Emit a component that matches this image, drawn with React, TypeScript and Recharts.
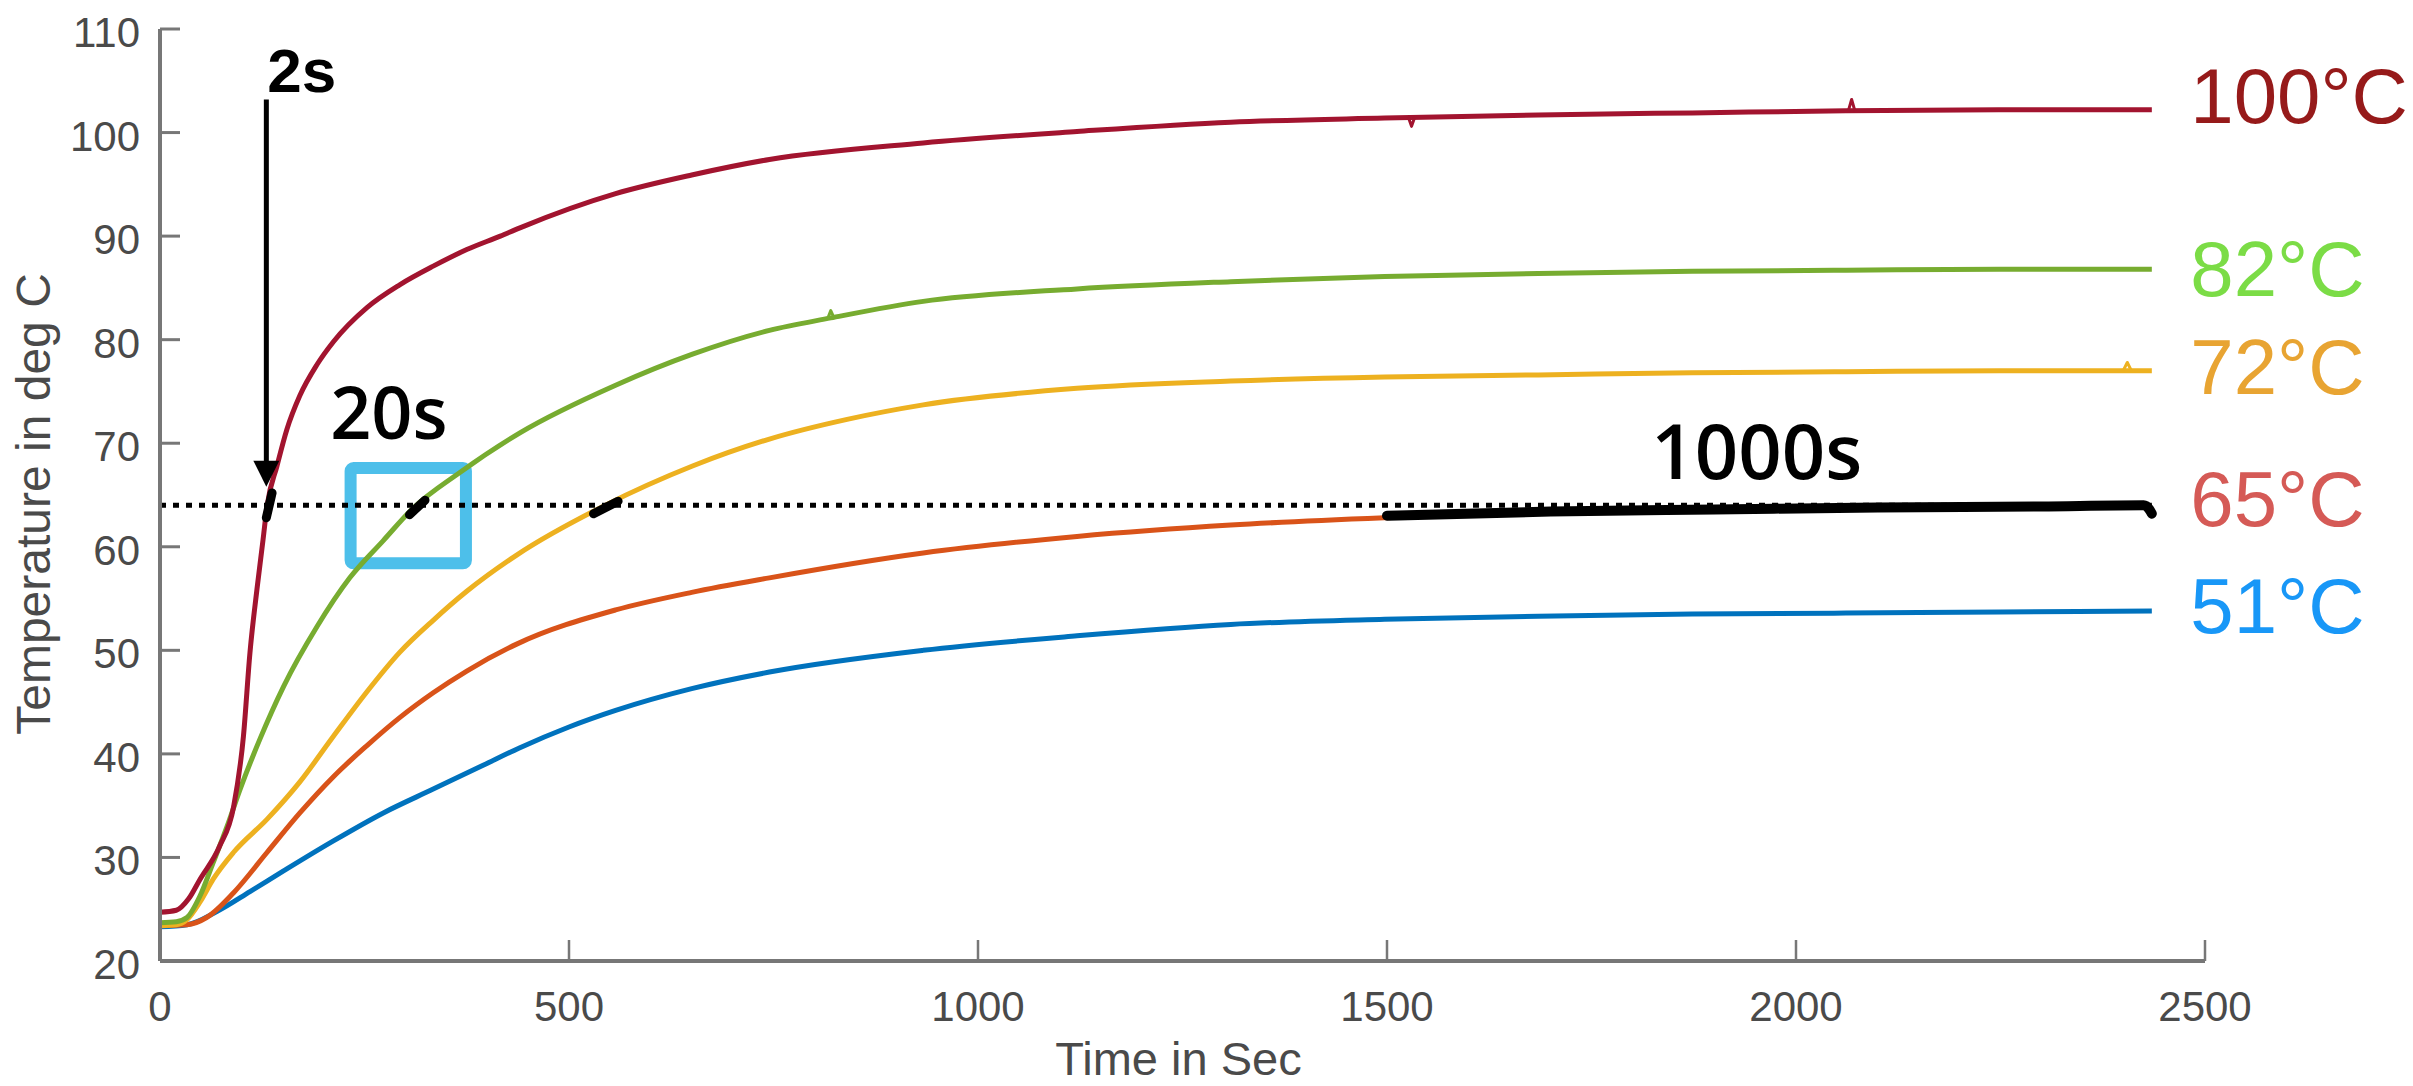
import { LineChart, Line, XAxis, YAxis, ReferenceArea, ReferenceDot } from 'recharts'

const FONT = '"Liberation Sans", Arial, Helvetica, sans-serif'
const NOTE_FONT = '"Open Sans", "Noto Sans", sans-serif'
const AXIS = '#777777'
const TEXT = '#4a4a4a'

// temperature readings (deg C) against time (s), one pair of arrays per setpoint
const t100 = [0, 20, 35, 49, 73, 90, 102, 110, 119, 126, 131, 143, 155, 171, 192, 212, 253, 293, 334, 375, 416, 440, 557, 650, 745, 933, 1121, 1309, 1497, 1685, 1873, 2061, 2250, 2435]
const v100 = [24.7, 24.9, 26, 27.9, 31.1, 34.9, 41.7, 49.8, 56.2, 60.7, 64, 67.8, 71.3, 74.6, 77.6, 79.8, 83.1, 85.3, 87.1, 88.7, 90.0, 90.8, 94.1, 95.9, 97.4, 99, 100.1, 101, 101.4, 101.7, 101.9, 102.1, 102.2, 102.2]

const t82 = [0, 20, 33, 49, 65, 82, 98, 122, 151, 192, 232, 273, 309, 367, 440, 557, 651, 745, 820, 933, 1121, 1309, 1497, 1685, 1873, 2061, 2250, 2435]
const v82 = [23.7, 23.8, 24.2, 26.3, 29.5, 33, 36.6, 41.4, 46.5, 52.3, 57.0, 60.6, 63.7, 67.2, 71.0, 75.6, 78.6, 80.9, 82.1, 83.7, 84.9, 85.6, 86.1, 86.4, 86.6, 86.7, 86.8, 86.8]

const t72 = [0, 20, 33, 49, 65, 90, 131, 171, 212, 253, 293, 334, 375, 436, 544, 651, 745, 840, 933, 1121, 1309, 1497, 1685, 1873, 2061, 2250, 2435]
const v72 = [23.4, 23.5, 24, 25.7, 27.9, 30.5, 33.7, 37.3, 41.7, 46, 49.8, 52.9, 55.7, 59.2, 64, 67.8, 70.4, 72.3, 73.7, 75.3, 76, 76.4, 76.6, 76.8, 76.9, 77, 77]

const t65 = [0, 33, 57, 90, 131, 171, 212, 253, 293, 334, 375, 436, 557, 650, 745, 933, 1121, 1309, 1497, 1685, 1873, 2061, 2250, 2435]
const v65 = [23.4, 23.5, 24.2, 26.6, 30.5, 34.3, 37.8, 40.8, 43.5, 45.9, 48.0, 50.6, 53.9, 55.6, 57.0, 59.4, 61, 62.1, 62.8, 63.3, 63.6, 63.8, 63.9, 63.9]

const t51 = [0, 33, 70, 110, 151, 212, 273, 334, 395, 440, 500, 557, 650, 745, 933, 1121, 1309, 1497, 1685, 1873, 2061, 2250, 2435]
const v51 = [23.3, 23.5, 24.8, 26.7, 28.7, 31.6, 34.3, 36.6, 38.9, 40.6, 42.6, 44.2, 46.3, 47.9, 50, 51.4, 52.5, 53, 53.3, 53.5, 53.6, 53.7, 53.8]

// single-sample glitches visible on the traces
const spikes = [
  { color: '#a2142f', t: [1526, 1530, 1534], v: [101.5, 100.6, 101.5] },
  { color: '#a2142f', t: [2064, 2068, 2072], v: [102.1, 103.2, 102.1] },
  { color: '#77ac30', t: [816, 820, 824], v: [82.0, 82.8, 82.1] },
  { color: '#edb120', t: [2400, 2405, 2410], v: [77, 77.8, 77] },
]

// 64 deg C threshold and the 1000 s hold at the end of the 65 deg C run
const tThreshold = [0, 2435]
const vThreshold = [64, 64]
const tHold = [1500, 1700, 1900, 2100, 2300, 2425, 2432, 2435]
const vHold = [63.0, 63.4, 63.6, 63.8, 63.9, 64.0, 63.6, 63.2]

// short black marks where curves cross the threshold
const crossMarks = [
  { t: [130, 137], v: [62.8, 65.2] },
  { t: [305, 324], v: [63.1, 64.5] },
  { t: [530, 560], v: [63.2, 64.4] },
]

// arrow for the 2 s case
const tArrow = [130, 130]
const vArrow = [103.2, 67.6]
const arrowTip = { t: 130, v: 65.8 }

// highlighted box around the 20 s crossing
const box = { t1: 233, t2: 374, v1: 58.4, v2: 67.6 }

const endLabels = ['100°C', '82°C', '72°C', '65°C', '51°C']
const endLabelColors = ['#961a1a', '#7bdc46', '#e8a432', '#d55a56', '#1897f7']
const endLabelY = [100.95, 84.2, 74.8, 62.0, 51.7]
const endLabelX = 2482

const notes = [
  { text: '2s', t: 131, v: 103.95, anchor: 'start', size: 62, family: FONT, weight: 700 },
  { text: '20s', t: 208, v: 70.4, anchor: 'start', size: 72, family: NOTE_FONT, weight: 600 },
  { text: '1000s', t: 1952, v: 66.5, anchor: 'middle', size: 76, family: NOTE_FONT, weight: 600 },
]

const xTicks = [0, 500, 1000, 1500, 2000, 2500]
const yTicks = [20, 30, 40, 50, 60, 70, 80, 90, 100, 110]

const zip = (ts: number[], vs: number[]) => ts.map((t, i) => ({ t, v: vs[i] }))

const series = [
  { key: 's51', data: zip(t51, v51), color: '#0072bd' },
  { key: 's65', data: zip(t65, v65), color: '#d95319' },
  { key: 's72', data: zip(t72, v72), color: '#edb120' },
  { key: 's82', data: zip(t82, v82), color: '#77ac30' },
  { key: 's100', data: zip(t100, v100), color: '#a2142f' },
]

const YTick = ({ x, y, payload }: any) => (
  <g>
    <line x1={x + 20} x2={x + 40} y1={y} y2={y} stroke={AXIS} strokeWidth={3} />
    <text x={x} y={y} dy={18} textAnchor="end" fill={TEXT} fontSize={42} fontFamily={FONT}>
      {payload.value}
    </text>
  </g>
)

const XTick = ({ x, y, payload }: any) => (
  <g>
    <line x1={x} x2={x} y1={y - 30} y2={y - 51} stroke={AXIS} strokeWidth={2.5} />
    <text x={x} y={y} dy={30} textAnchor="middle" fill={TEXT} fontSize={42} fontFamily={FONT}>
      {payload.value}
    </text>
  </g>
)

const App = () => {
  return (
    <div style={{ position: 'absolute', left: 0, top: 0, background: '#fff' }}>
      <LineChart width={2413} height={1086} margin={{ top: 29, right: 208, bottom: 0, left: 0 }}>
        <XAxis
          dataKey="t"
          type="number"
          domain={[0, 2500]}
          ticks={xTicks}
          tickSize={0}
          tickMargin={30}
          tickLine={false}
          tick={XTick}
          height={125}
          axisLine={{ stroke: AXIS, strokeWidth: 4 }}
          label={({ viewBox }: any) => (
            <text
              x={viewBox.x + viewBox.width / 2 - 4}
              y={viewBox.y + 114}
              textAnchor="middle"
              fill={TEXT}
              fontSize={47}
              fontFamily={FONT}
            >
              Time in Sec
            </text>
          )}
        />
        <YAxis
          type="number"
          domain={[20, 110]}
          ticks={yTicks}
          tickSize={0}
          tickMargin={20}
          tickLine={false}
          tick={YTick}
          width={160}
          axisLine={{ stroke: AXIS, strokeWidth: 4 }}
          label={({ viewBox }: any) => {
            const cx = viewBox.x + 50
            const cy = viewBox.y + viewBox.height / 2 + 9
            return (
              <text
                x={cx}
                y={cy}
                transform={`rotate(-90 ${cx} ${cy})`}
                textAnchor="middle"
                fill={TEXT}
                fontSize={48}
                fontFamily={FONT}
              >
                Temperature in deg C
              </text>
            )
          }}
        />

        <ReferenceArea
          x1={box.t1}
          x2={box.t2}
          y1={box.v1}
          y2={box.v2}
          fill="none"
          fillOpacity={0}
          stroke="#4dbfea"
          strokeWidth={12}
          radius={3}
        />

        {series.map((s) => (
          <Line
            key={s.key}
            data={s.data}
            dataKey="v"
            type="monotone"
            stroke={s.color}
            strokeWidth={5}
            dot={false}
            activeDot={false}
            isAnimationActive={false}
          />
        ))}
        {spikes.map((s, i) => (
          <Line
            key={`spike-${i}`}
            data={zip(s.t, s.v)}
            dataKey="v"
            type="linear"
            stroke={s.color}
            strokeWidth={3}
            strokeLinejoin="round"
            dot={false}
            activeDot={false}
            isAnimationActive={false}
          />
        ))}

        <Line
          data={zip(tThreshold, vThreshold)}
          dataKey="v"
          type="linear"
          stroke="#000"
          strokeWidth={5}
          strokeDasharray="6 7"
          dot={false}
          activeDot={false}
          isAnimationActive={false}
        />
        <Line
          data={zip(tHold, vHold)}
          dataKey="v"
          type="monotone"
          stroke="#000"
          strokeWidth={10}
          strokeLinecap="round"
          dot={false}
          activeDot={false}
          isAnimationActive={false}
        />
        {crossMarks.map((m, i) => (
          <Line
            key={`mark-${i}`}
            data={zip(m.t, m.v)}
            dataKey="v"
            type="linear"
            stroke="#000"
            strokeWidth={9}
            strokeLinecap="round"
            dot={false}
            activeDot={false}
            isAnimationActive={false}
          />
        ))}
        <Line
          data={zip(tArrow, vArrow)}
          dataKey="v"
          type="linear"
          stroke="#000"
          strokeWidth={5}
          dot={false}
          activeDot={false}
          isAnimationActive={false}
        />
        <ReferenceDot
          x={arrowTip.t}
          y={arrowTip.v}
          r={0}
          shape={(p: any) => (
            <path d={`M${p.cx},${p.cy} L${p.cx - 13},${p.cy - 26} L${p.cx + 13},${p.cy - 26} Z`} fill="#000" />
          )}
        />

        {notes.map((n) => (
          <ReferenceDot
            key={n.text}
            x={n.t}
            y={n.v}
            r={0}
            shape={(p: any) => (
              <text
                x={p.cx}
                y={p.cy}
                textAnchor={n.anchor as any}
                fill="#000"
                fontSize={n.size}
                fontWeight={n.weight}
                fontFamily={n.family}
              >
                {n.text}
              </text>
            )}
          />
        ))}

        {endLabels.map((label, i) => (
          <ReferenceDot
            key={label}
            x={endLabelX}
            y={endLabelY[i]}
            r={0}
            shape={(p: any) => (
              <text x={p.cx} y={p.cy} fill={endLabelColors[i]} fontSize={78} fontFamily={FONT}>
                {label}
              </text>
            )}
          />
        ))}
      </LineChart>
    </div>
  )
}

export default App
